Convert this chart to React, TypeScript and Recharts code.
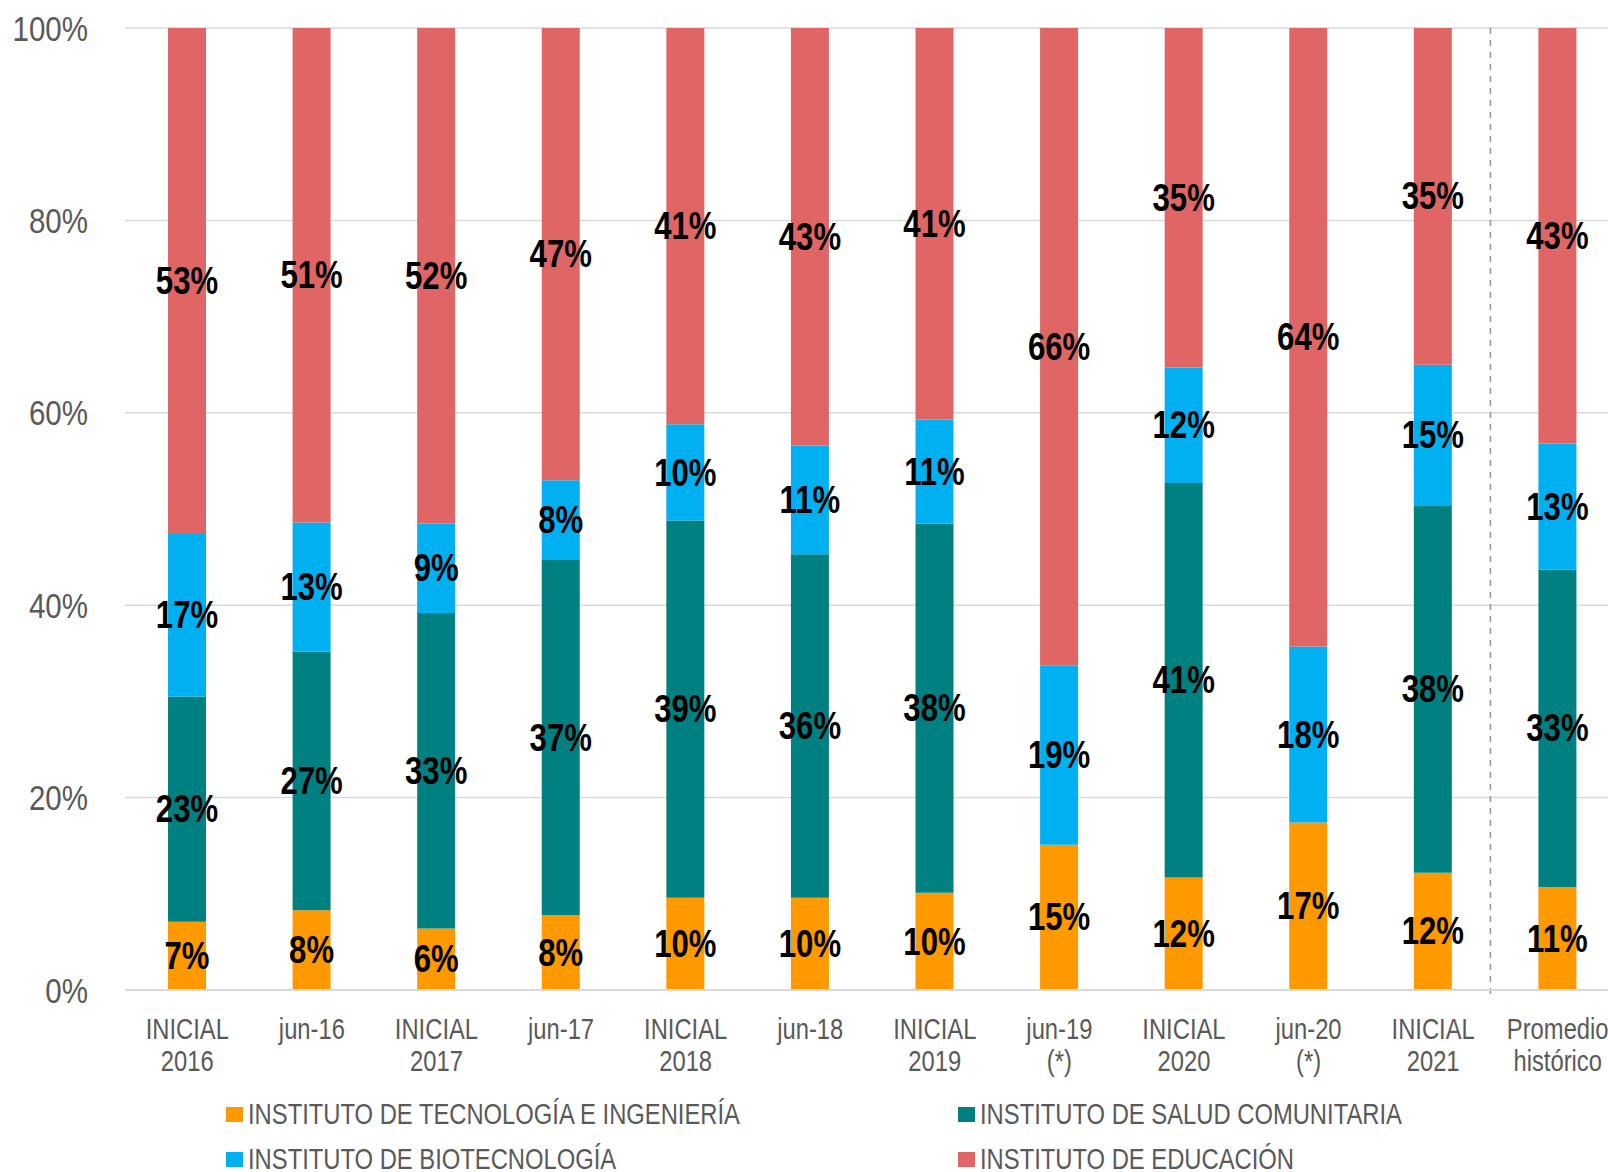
import { BarChart, Bar, XAxis, YAxis, CartesianGrid, LabelList, Legend, ReferenceLine } from 'recharts';

const categories = [
  'INICIAL\n2016', 'jun-16', 'INICIAL\n2017', 'jun-17', 'INICIAL\n2018', 'jun-18',
  'INICIAL\n2019', 'jun-19\n(*)', 'INICIAL\n2020', 'jun-20\n(*)', 'INICIAL\n2021', 'Promedio\nhistórico'
];
const tecnologia = [7.1, 8.3, 6.4, 7.8, 9.6, 9.6, 10.1, 15.1, 11.7, 17.4, 12.2, 10.7];
const salud = [23.4, 26.9, 32.8, 36.9, 39.2, 35.7, 38.4, 0, 41.0, 0, 38.2, 33.0];
const biotecnologia = [16.9, 13.4, 9.3, 8.3, 10.0, 11.3, 10.8, 18.6, 12.0, 18.3, 14.6, 13.1];
const educacion = [52.6, 51.4, 51.5, 47.0, 41.2, 43.4, 40.7, 66.3, 35.3, 64.3, 35.0, 43.2];
const yTicks = [0, 20, 40, 60, 80, 100];

const series = [
  { key: 'tecnologia', name: 'INSTITUTO DE TECNOLOGÍA E INGENIERÍA', color: '#FF9900' },
  { key: 'salud', name: 'INSTITUTO DE SALUD COMUNITARIA', color: '#008080' },
  { key: 'biotecnologia', name: 'INSTITUTO DE BIOTECNOLOGÍA', color: '#00B0F0' },
  { key: 'educacion', name: 'INSTITUTO DE EDUCACIÓN', color: '#E06666' }
];

const data = categories.map((c, i) => ({
  cat: c,
  tecnologia: tecnologia[i],
  salud: salud[i],
  biotecnologia: biotecnologia[i],
  educacion: educacion[i]
}));

// no Arial Narrow here, so squeeze Liberation Sans horizontally
const FONT = '"Liberation Sans", Arial, sans-serif';
const SQUEEZE = 0.82;
const GREY = '#595959';

const NText = ({ x, y, anchor = 'middle', size, bold = false, fill = GREY, children }: any) => (
  <text
    transform={`translate(${x},${y}) scale(${SQUEEZE},1)`}
    x={0}
    y={0}
    textAnchor={anchor}
    dominantBaseline="central"
    fontFamily={FONT}
    fontWeight={bold ? 'bold' : 'normal'}
    fontSize={size}
    fill={fill}
  >
    {children}
  </text>
);

const renderLabel = (props: any) => {
  const { x, y, width, height, value } = props;
  if (!value) return null;
  return (
    <NText x={x + width / 2} y={y + height / 2} size={38} bold fill="#000">
      {Math.round(value)}%
    </NText>
  );
};

const XTick = (props: any) => {
  const { x, y, payload } = props;
  const lines = String(payload.value).split('\n');
  return (
    <g>
      {lines.map((l, i) => (
        <NText key={i} x={x} y={y + 31 + i * 32} size={29}>
          {l}
        </NText>
      ))}
    </g>
  );
};

const YTick = (props: any) => {
  const { x, y, payload } = props;
  return (
    <NText x={x} y={y} anchor="end" size={36}>
      {payload.value}%
    </NText>
  );
};

// separator sits a little left of the band edge and pokes below the axis
const Separator = (props: any) => {
  const { x1, y1, x2, y2 } = props;
  return (
    <line
      x1={x1 - 5}
      y1={Math.min(y1, y2)}
      x2={x2 - 5}
      y2={Math.max(y1, y2) + 7}
      stroke="#8497b0"
      strokeDasharray="6 6"
      strokeWidth={1.5}
    />
  );
};

const legendCols = [226, 958];
const legendRows = [0, 45];

const renderLegend = () => (
  <div style={{ position: 'relative', width: 1400, height: 72 }}>
    {series.map((s, i) => (
      <div
        key={s.key}
        style={{
          position: 'absolute',
          left: legendCols[i % 2],
          top: legendRows[Math.floor(i / 2)],
          height: 30,
          display: 'flex',
          alignItems: 'center',
          fontFamily: FONT,
          fontSize: 29,
          lineHeight: '30px',
          color: GREY,
          whiteSpace: 'nowrap'
        }}
      >
        <span style={{ display: 'inline-block', width: 17, height: 15, background: s.color, marginRight: 5 }} />
        <span style={{ display: 'inline-block', transform: `scaleX(${SQUEEZE})`, transformOrigin: 'left center' }}>
          {s.name}
        </span>
      </div>
    ))}
  </div>
);

export default function App() {
  return (
    <div style={{ position: 'absolute', left: 0, top: 0, width: 1608, height: 1172, overflow: 'hidden', background: '#fff' }}>
      <BarChart
        width={1620}
        height={1172}
        data={data}
        margin={{ top: 28, right: 0, left: 0, bottom: 92 }}
      >
        <CartesianGrid vertical={false} stroke="#d9d9d9" strokeWidth={1.5} />
        <XAxis
          dataKey="cat"
          interval={0}
          tick={<XTick />}
          tickLine={false}
          axisLine={{ stroke: '#d9d9d9', strokeWidth: 2 }}
          height={90}
        />
        <YAxis
          domain={[0, 100]}
          ticks={yTicks}
          tick={<YTick />}
          tickLine={false}
          axisLine={false}
          tickSize={0}
          tickMargin={37}
          width={125}
          allowDataOverflow
        />
        <ReferenceLine
          x={categories[11]}
          position="start"
          stroke="#8497b0"
          shape={Separator}
          ifOverflow="visible"
        />
        {series.map((s) => (
          <Bar key={s.key} dataKey={s.key} name={s.name} stackId="a" fill={s.color} barSize={38} isAnimationActive={false}>
            <LabelList dataKey={s.key} content={renderLabel} />
          </Bar>
        ))}
        <Legend
          layout="horizontal"
          verticalAlign="middle"
          align="center"
          content={renderLegend}
          wrapperStyle={{ position: 'absolute', left: 0, top: 1099, width: 1400, height: 72 }}
        />
      </BarChart>
    </div>
  );
}
